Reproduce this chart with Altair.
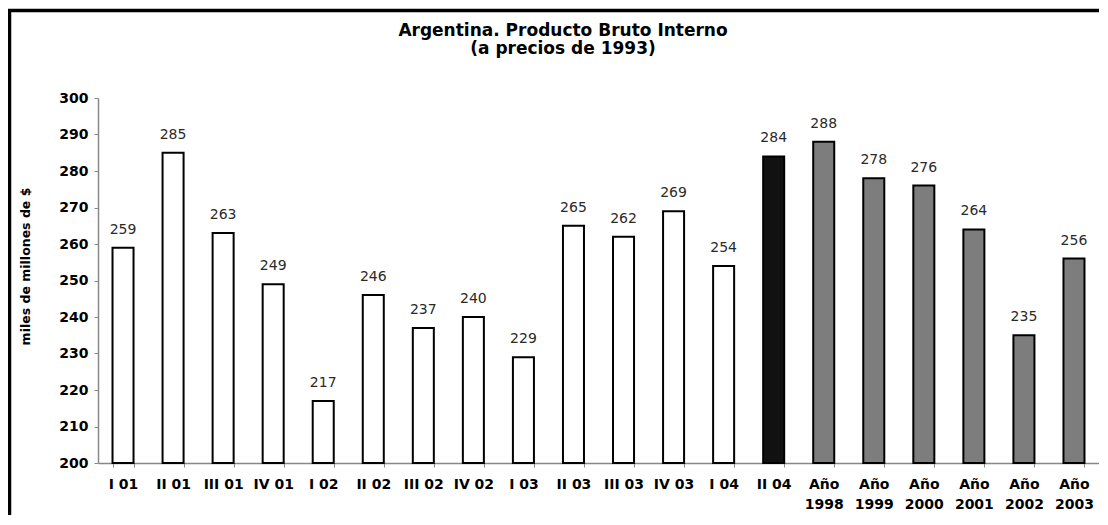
import altair as alt
import pandas as pd

categories = ["I 01", "II 01", "III 01", "IV 01", "I 02", "II 02", "III 02", "IV 02",
              "I 03", "II 03", "III 03", "IV 03", "I 04", "II 04",
              "Año 1998", "Año 1999", "Año 2000", "Año 2001", "Año 2002", "Año 2003"]
values = [259, 285, 263, 249, 217, 246, 237, 240, 229, 265, 262, 269, 254, 284,
          288, 278, 276, 264, 235, 256]
kinds = ["trimestre"] * 13 + ["actual"] + ["anual"] * 6
y_ticks = [200, 210, 220, 230, 240, 250, 260, 270, 280, 290, 300]
title_main = "Argentina. Producto Bruto Interno"
title_sub = "(a precios de 1993)"

df = pd.DataFrame({"cat": categories, "val": values, "kind": kinds})

FONT = "DejaVu Sans"

x_enc = alt.X("cat:N", sort=categories,
              scale=alt.Scale(paddingInner=0.58, paddingOuter=0.29),
              axis=alt.Axis(title=None, labelAngle=0, tickBand="extent",
                            labelExpr="indexof(datum.label, 'Año') == 0 ? split(datum.label, ' ') : datum.label",
                            labelLineHeight=20, labelPadding=10, labelOverlap=False))
y_enc = alt.Y("val:Q", scale=alt.Scale(domain=[200, 300], nice=False, zero=False),
              axis=alt.Axis(title="miles de millones de $", values=y_ticks,
                            labelOverlap=False,
                            titleX=-73, titleY=168, titleAngle=-90, titleAlign="center",
                            titleBaseline="middle", titleFontSize=12.5, titleFont=FONT,
                            titleFontWeight="bold", labelPadding=6, grid=False))

base = alt.Chart(df).encode(x=x_enc, y=y_enc)

bars = base.mark_bar(stroke="#000000", strokeWidth=2).encode(
    y2=alt.datum(200),
    fill=alt.Fill("kind:N", scale=alt.Scale(domain=["trimestre", "actual", "anual"],
                                            range=["#ffffff", "#111111", "#7d7d7d"]),
                  legend=None),
)

labels = base.mark_text(baseline="bottom", dy=-11, font=FONT, fontSize=14,
                        color="#2a2a2a").encode(text="val:Q")


def title_line(txt, ypos):
    return alt.Chart(pd.DataFrame({"t": [txt]})).mark_text(
        font=FONT, fontSize=17, fontWeight="bold", color="#000000",
        align="center", baseline="alphabetic").encode(
        x=alt.value(465), y=alt.value(ypos), text="t:N")


t1 = title_line(title_main, -62)
t2 = title_line(title_sub, -44)

one = pd.DataFrame({"a": [0]})
border_left = alt.Chart(one).mark_rule(color="#000000", strokeWidth=3.5).encode(
    x=alt.value(-88.5), y=alt.value(-87.5), y2=alt.value(440))
border_top = alt.Chart(one).mark_rule(color="#000000", strokeWidth=3.5).encode(
    x=alt.value(-90), x2=alt.value(1010), y=alt.value(-87.5))

chart = alt.layer(bars, labels, t1, t2, border_left, border_top).properties(
    width=1001, height=365,
    background="#ffffff",
    autosize=alt.AutoSizeParams(type="none"),
    padding={"left": 90, "top": 90, "right": 0, "bottom": 52},
).configure_view(stroke=None).configure_axis(
    domainColor="#888888", tickColor="#888888", tickSize=4, domainWidth=1.5,
    labelFont=FONT, labelFontSize=14, labelFontWeight="bold", labelColor="#000000",
    titleColor="#000000",
)

chart.save("out.html", embed_options={"renderer": "svg", "actions": False})
